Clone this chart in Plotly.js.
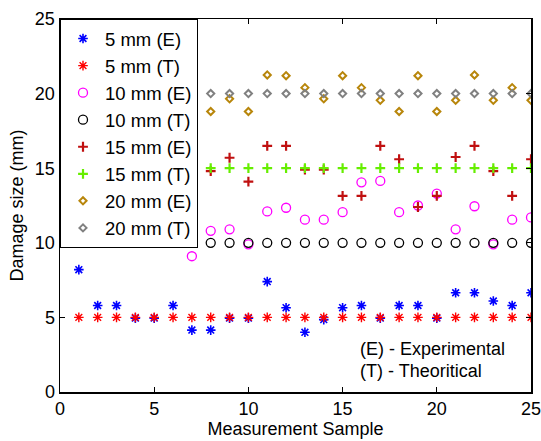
<!DOCTYPE html>
<html>
<head>
<meta charset="utf-8">
<script src="https://cdn.plot.ly/plotly-3.0.1.min.js"></script>
<style>html,body{margin:0;padding:0;background:#fff;}#chart{width:541px;height:441px;}</style>
</head>
<body>
<div id="chart"></div>
<script>
const samples = [1,2,3,4,5,6,7,8,9,10,11,12,13,14,15,16,17,18,19,20,21,22,23,24,25];
const exp5  = [8.2,5.8,5.8,4.95,4.95,5.8,4.15,4.15,4.95,4.95,7.4,5.65,4.0,4.85,5.65,5.8,4.95,5.8,5.8,4.95,6.65,6.65,6.1,5.8,6.65];
const theo5 = [5,5,5,5,5,5,5,5,5,5,5,5,5,5,5,5,5,5,5,5,5,5,5,5,5];
const exp10 = [11.5,11.0,12.0,11.5,10.9,12.2,9.1,10.8,10.9,9.9,12.1,12.35,11.55,11.55,12.05,14.05,14.15,12.05,12.5,13.3,10.9,12.45,9.9,11.55,11.7];
const theo10 = [10,10,10,10,10,10,10,10,10,10,10,10,10,10,10,10,10,10,10,10,10,10,10,10,10];
const exp15 = [15.6,14.9,16.4,15.7,13.2,14.9,15.6,14.8,15.7,14.1,16.5,16.5,14.9,14.9,13.15,13.15,16.5,15.6,12.4,13.15,15.75,16.5,14.8,13.15,15.6];
const theo15 = [15,15,15,15,15,15,15,15,15,15,15,15,15,15,15,15,15,15,15,15,15,15,15,15,15];
const exp20 = [20.4,19.6,21.2,18.8,20.4,19.6,21.2,18.8,19.65,18.8,21.25,21.2,20.4,19.65,21.2,20.4,19.55,18.8,21.2,18.8,19.55,21.25,19.55,20.4,19.55];
const theo20 = [20,20,20,20,20,20,20,20,20,20,20,20,20,20,20,20,20,20,20,20,20,20,20,20,20];
const seriesNames = ['5 mm (E)','5 mm (T)','10 mm (E)','10 mm (T)','15 mm (E)','15 mm (T)','20 mm (E)','20 mm (T)'];
const notes = ['(E) - Experimental','(T) - Theoritical'];

function tr(name, y, symbol, color, size, lw){
  return {x: samples, y: y, name: name, type: 'scatter', mode: 'markers',
    marker: {symbol: symbol, size: size, color: color, line: {color: color, width: lw}}};
}
const data = [
  tr(seriesNames[0], exp5, 'asterisk-open', '#0000ff', 8, 1.6),
  tr(seriesNames[1], theo5, 'asterisk-open', '#ff0000', 8, 1.4),
  tr(seriesNames[2], exp10, 'circle-open', '#ff00ff', 9, 1.3),
  tr(seriesNames[3], theo10, 'circle-open', '#000000', 9, 1.3),
  tr(seriesNames[4], exp15, 'cross-thin-open', '#c01010', 7, 2.2),
  tr(seriesNames[5], theo15, 'cross-thin-open', '#66ee00', 7, 2.2),
  tr(seriesNames[6], exp20, 'diamond-open', '#b8860b', 5.5, 2),
  tr(seriesNames[7], theo20, 'diamond-open', '#808080', 5.5, 2)
];
const layout = {
  width: 541, height: 441,
  margin: {l: 60, r: 10, t: 19, b: 49},
  paper_bgcolor: '#fff', plot_bgcolor: '#fff',
  font: {family: 'Liberation Sans, Arial, sans-serif', size: 17, color: '#000'},
  showlegend: true,
  legend: {x: 0, y: 1, xanchor: 'left', yanchor: 'top', bgcolor: '#fff',
    bordercolor: '#000', borderwidth: 1, font: {size: 18.5}, tracegroupgap: 0, itemwidth: 34},
  xaxis: {range: [0, 25], tickvals: [0,5,10,15,20,25], ticks: 'inside', ticklen: 5,
    tickcolor: '#000', showline: true, linecolor: '#000', linewidth: 1.5, mirror: 'ticks',
    showgrid: false, zeroline: false, tickfont: {size: 18}, ticklabeloverflow: 'allow',
    title: {text: 'Measurement Sample', font: {size: 18}, standoff: 2}},
  yaxis: {range: [0, 25], tickvals: [0,5,10,15,20,25], ticks: 'inside', ticklen: 5,
    tickcolor: '#000', showline: true, linecolor: '#000', linewidth: 1.5, mirror: 'ticks',
    showgrid: false, zeroline: false, tickfont: {size: 18}, ticklabeloverflow: 'allow',
    title: {text: 'Damage size (mm)', font: {size: 18}, standoff: 6}},
  annotations: [
    {text: notes[0], xref: 'paper', yref: 'paper', x: 0.632, y: 0.115, xanchor: 'left', yanchor: 'middle', showarrow: false, font: {size: 18}},
    {text: notes[1], xref: 'paper', yref: 'paper', x: 0.632, y: 0.056, xanchor: 'left', yanchor: 'middle', showarrow: false, font: {size: 18}}
  ]
};
Plotly.newPlot('chart', data, layout, {displayModeBar: false, staticPlot: true});
</script>
</body>
</html>
